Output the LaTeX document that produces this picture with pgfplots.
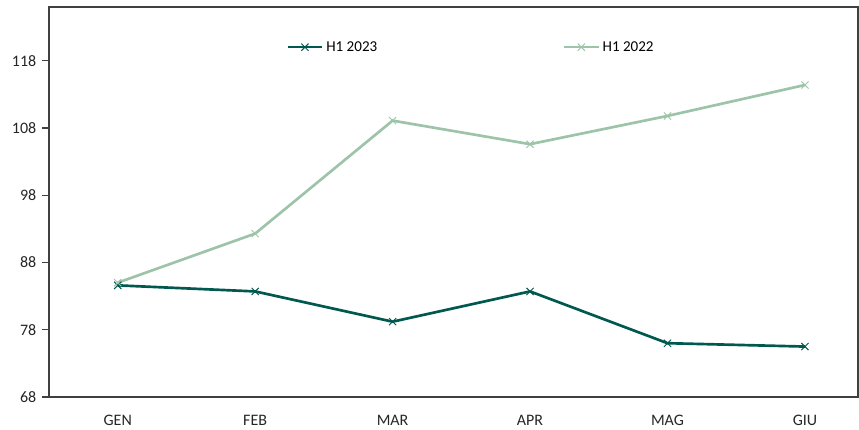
\documentclass[border=0pt]{standalone}
\usepackage{fontspec}
\setmainfont{Carlito}
\usepackage{pgfplots}
\pgfplotsset{compat=1.18}
\definecolor{dark}{HTML}{00584F}
\definecolor{light}{HTML}{9DC3A8}
\definecolor{axgray}{HTML}{404040}
\begin{document}
\begin{tikzpicture}
\begin{axis}[
    scale only axis,
    width=606.75pt, height=292.5pt,
    xmin=-0.5, xmax=5.386,
    ymin=68, ymax=126,
    xtick={0,1,2,3,4,5},
    xticklabels={GEN,FEB,MAR,APR,MAG,GIU},
    ytick={68,78,88,98,108,118},
    ytick pos=left,
    x tick style={draw=none},
    y tick style={axgray, line width=0.8pt},
    tick align=outside,
    major tick length=5pt,
    axis line style={axgray, line width=1pt},
    tick label style={font=\fontsize{12}{14}\selectfont, text=black!85},
    /pgf/number format/assume math mode=true,
    xticklabel style={yshift=-5pt},
    yticklabel style={xshift=-1pt},
    legend style={draw=none, fill=none, at={(rel axis cs:0.293,0.897)}, anchor=west,
        inner sep=0pt, font=\fontsize{11.3}{13}\selectfont, legend cell align=left},
    legend columns=2,
    /tikz/every even column/.append style={column sep=137pt},
    legend image code/.code={
        \draw[#1, mark repeat=2, mark phase=2] plot coordinates {(0pt,0pt) (13pt,0pt) (26pt,0pt)};
    },
]
\addplot[dark, line width=2pt, mark=x, mark size=3.8pt, mark options={line width=0.7pt}]
    coordinates {(0,84.6) (1,83.7) (2,79.2) (3,83.7) (4,76.0) (5,75.5)};
\addlegendentry{H1 2023}
\addplot[light, line width=2pt, mark=x, mark size=3.8pt, mark options={line width=0.7pt}]
    coordinates {(0,85.0) (1,92.3) (2,109.1) (3,105.6) (4,109.8) (5,114.4)};
\addlegendentry{H1 2022}
\end{axis}
\path ([shift={(-36.75pt,-23.25pt)}]current axis.south west) rectangle ([shift={(0.75pt,5.25pt)}]current axis.north east);
\end{tikzpicture}
\end{document}
